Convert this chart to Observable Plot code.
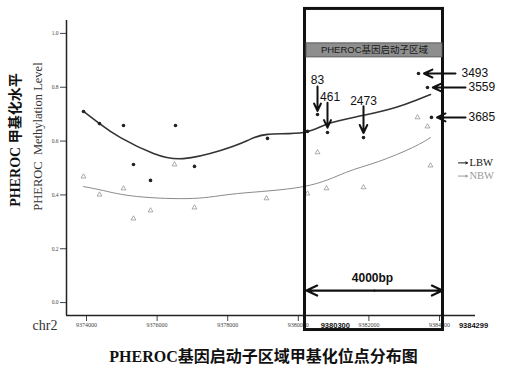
<!DOCTYPE html>
<html><head><meta charset="utf-8">
<script src="https://cdn.jsdelivr.net/npm/d3@7"></script>
<script src="https://cdn.jsdelivr.net/npm/@observablehq/plot@0.6"></script>
<style>
body{margin:0;background:#fff;}
#title{width:527px;text-align:center;font:bold 16px "Liberation Serif","Noto Sans CJK SC",serif;color:#111;height:34px;line-height:34px;}
</style></head><body>
<div id="chart"></div>
<div id="title">PHEROC基因启动子区域甲基化位点分布图</div>
<script>
// ---- data ----
const xTicks = [9374000, 9376000, 9378000, 9380000, 9382000, 9384000];
const yTicks = [0, 0.2, 0.4, 0.6, 0.8, 1.0];

const lbwPos   = [9373915, 9374368, 9375048, 9376521, 9375331, 9377059, 9375813, 9379127, 9380261, 9380544, 9380827, 9381847, 9383405, 9383660, 9383773];
const lbwLevel = [0.710, 0.665, 0.658, 0.658, 0.513, 0.506, 0.454, 0.610, 0.636, 0.699, 0.632, 0.613, 0.851, 0.799, 0.688];

const nbwPos   = [9373915, 9374368, 9375048, 9375331, 9375813, 9376493, 9377059, 9379099, 9380261, 9380544, 9380799, 9381847, 9383377, 9383660, 9383745];
const nbwLevel = [0.468, 0.401, 0.424, 0.312, 0.342, 0.513, 0.353, 0.387, 0.405, 0.558, 0.424, 0.428, 0.688, 0.654, 0.509];

const lbwFitPos   = [9373915, 9374368, 9374963, 9375898, 9376748, 9377796, 9378561, 9379127, 9380147, 9380856, 9381819, 9382754, 9383320, 9383745];
const lbwFitLevel = [0.710, 0.665, 0.613, 0.554, 0.535, 0.565, 0.602, 0.625, 0.632, 0.665, 0.695, 0.725, 0.751, 0.773];

const nbwFitPos   = [9373915, 9374482, 9375445, 9377031, 9378278, 9380147, 9381337, 9382272, 9383235, 9383745];
const nbwFitLevel = [0.431, 0.416, 0.394, 0.387, 0.405, 0.431, 0.483, 0.524, 0.576, 0.613];

const siteLabels = ["83", "461", "2473", "3493", "3559", "3685"];
const regionLabels = ["9380300", "9384299"];
const seriesNames = ["LBW", "NBW"];

// ---- tables built from the arrays ----
const lbw = lbwPos.map((x, i) => ({x, y: lbwLevel[i]}));
const nbw = nbwPos.map((x, i) => ({x, y: nbwLevel[i]}));
const lbwFit = lbwFitPos.map((x, i) => ({x, y: lbwFitLevel[i]}));
const nbwFit = nbwFitPos.map((x, i) => ({x, y: nbwFitLevel[i]}));

// ---- layout (annotation placement in data units) ----
const xDomain = [9373433, 9385020];
const yDomain = [-0.048, 1.048];
const box = {x1: 9380190, x2: 9384099, y1: 1.091, y2: -0.102};
const banner = {x1: 9380232, x2: 9384085, y1: 0.963, y2: 0.911, cx: 9382158, cy: 0.937};

const vArrows = [
  {x: 9380544, y1: 0.803, y2: 0.712, tx: 9380544, ty: 0.828, t: siteLabels[0]},
  {x: 9380827, y1: 0.742, y2: 0.650, tx: 9380900, ty: 0.764, t: siteLabels[1]},
  {x: 9381847, y1: 0.729, y2: 0.630, tx: 9381847, ty: 0.748, t: siteLabels[2]}
];
const hArrows = [
  {x1: 9384453, x2: 9383560, y: 0.851, tx: 9384623, t: siteLabels[3]},
  {x1: 9384737, x2: 9383810, y: 0.799, tx: 9384822, t: siteLabels[4]},
  {x1: 9384737, x2: 9383930, y: 0.688, tx: 9384822, t: siteLabels[5]}
];
const legend = [
  {x1: 9384538, x2: 9384793, tx: 9384850, y: 0.519, t: seriesNames[0], c: "#111"},
  {x1: 9384538, x2: 9384793, tx: 9384850, y: 0.470, t: seriesNames[1], c: "#999"}
];
const serif = '"Liberation Serif","Noto Sans CJK SC",serif';
const sans = '"Liberation Sans","Noto Sans CJK SC",sans-serif';

const plot = Plot.plot({
  width: 527,
  height: 340,
  marginLeft: 66,
  marginRight: 52,
  marginTop: 20,
  marginBottom: 25,
  x: {domain: xDomain},
  y: {domain: yDomain},
  style: {background: "#fff", overflow: "visible"},
  marks: [
    Plot.axisY({ticks: yTicks, tickSize: 6, tickPadding: 2, fontSize: 5.5, fontFamily: serif, tickFormat: d3.format(".1f"), label: null, color: "#444"}),
    Plot.axisX({ticks: xTicks, tickSize: 6, tickPadding: 1, fontSize: 6, fontFamily: serif, tickFormat: d3.format("d"), label: null, color: "#444"}),
    Plot.ruleX([xDomain[0]], {stroke: "#222", strokeWidth: 1.5}),
    Plot.ruleY([yDomain[0]], {stroke: "#222", strokeWidth: 1.5}),
    Plot.line(nbwFit, {x: "x", y: "y", curve: "natural", stroke: "#8a8a8a", strokeWidth: 1}),
    Plot.line(lbwFit, {x: "x", y: "y", curve: "natural", stroke: "#333", strokeWidth: 1.6}),
    Plot.dot(nbw, {x: "x", y: "y", symbol: "triangle", r: 1.8, stroke: "#888", strokeWidth: 0.7, fill: "none"}),
    Plot.dot(lbw, {x: "x", y: "y", r: 1.8, fill: "#222", stroke: "none"}),
    Plot.rect([box], {x1: "x1", x2: "x2", y1: "y1", y2: "y2", fill: "none", stroke: "#111", strokeWidth: 3}),
    Plot.rect([banner], {x1: "x1", x2: "x2", y1: "y1", y2: "y2", fill: "#8e8e8e", stroke: "#5a5a5a", strokeWidth: 1}),
    Plot.text([banner], {x: "cx", y: "cy", text: () => "PHEROC基因启动子区域", fontSize: 9.5, fontFamily: sans, fill: "#1a1a1a"}),
    Plot.arrow(vArrows, {x: "x", y1: "y1", y2: "y2", stroke: "#111", strokeWidth: 2, headLength: 7, headAngle: 50}),
    Plot.text(vArrows, {x: "tx", y: "ty", text: "t", fontSize: 12, fontFamily: sans, fill: "#111", fontWeight: 500}),
    Plot.arrow(hArrows, {x1: "x1", x2: "x2", y: "y", stroke: "#111", strokeWidth: 2, headLength: 7, headAngle: 50}),
    Plot.text(hArrows, {x: "tx", y: "y", text: "t", fontSize: 12, fontFamily: sans, fill: "#111", textAnchor: "start", fontWeight: 500}),
    Plot.arrow(legend, {x1: "x1", x2: "x2", y: "y", stroke: "c", strokeWidth: 1, headLength: 3, headAngle: 60}),
    Plot.text(legend, {x: "tx", y: "y", text: "t", fill: "c", fontSize: 10.5, fontFamily: serif, textAnchor: "start"}),
    // 4000bp span
    Plot.arrow([{a: 9382158, b: 9380232}, {a: 9382158, b: 9384085}], {x1: "a", x2: "b", y: () => 0.0446, stroke: "#111", strokeWidth: 2.2, headLength: 8, headAngle: 50}),
    Plot.text(["4000bp"], {x: () => 9382102, y: () => 0.089, text: d => d, fontSize: 12, fontFamily: sans, fontWeight: "bold", fill: "#111"}),
    // region coordinates
    Plot.text(regionLabels, {x: [9381048, 9384963], y: [-0.086, -0.086], text: d => d, fontSize: 7.5, fontFamily: sans, fontWeight: "bold", fill: "#111"}),
    Plot.text(["chr2"], {x: () => 9372824, y: () => -0.0855, text: d => d, fontSize: 14, fontFamily: serif, fill: "#333"}),
    // y-axis titles
    Plot.text(["PHEROC 甲基化水平"], {x: () => 9371989, y: () => 0.604, text: d => d, rotate: -90, fontSize: 14, fontWeight: "bold", fontFamily: serif, fill: "#111"}),
    Plot.text(["PHEROC\u00a0 Methylation Level"], {x: () => 9372612, y: () => 0.617, text: d => d, rotate: -90, fontSize: 12.5, fontFamily: serif, fill: "#333"})
  ]
});
document.getElementById("chart").appendChild(plot);
</script>
</body></html>
